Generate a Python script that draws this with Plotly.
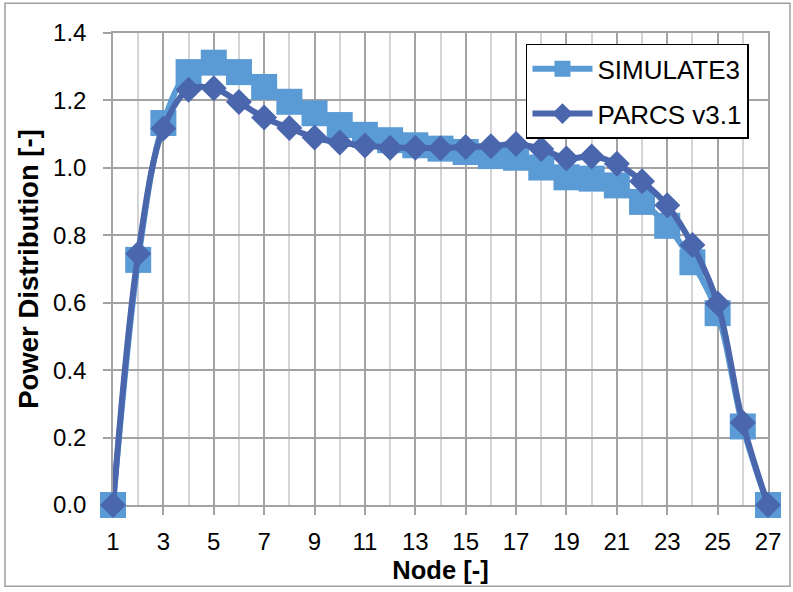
import plotly.graph_objects as go

nodes = list(range(1, 28))
simulate3 = [0.0, 0.727, 1.133, 1.284, 1.312, 1.284, 1.240, 1.196, 1.162, 1.127,
             1.098, 1.082, 1.067, 1.057, 1.047, 1.035, 1.030, 1.001, 0.972, 0.968,
             0.948, 0.899, 0.828, 0.720, 0.569, 0.233, 0.0]
parcs = [0.0, 0.745, 1.117, 1.232, 1.236, 1.195, 1.149, 1.118, 1.090, 1.075,
         1.066, 1.060, 1.060, 1.058, 1.062, 1.064, 1.071, 1.056, 1.028, 1.034,
         1.012, 0.960, 0.889, 0.771, 0.598, 0.244, 0.0]
x_ticks = list(range(1, 28, 2))
y_ticks = [0.0, 0.2, 0.4, 0.6, 0.8, 1.0, 1.2, 1.4]

FONT = "Arial, Liberation Sans, sans-serif"
SIM_C = "#5B9BD5"
PAR_C = "#4A66AC"
GRID = "#A3A3A3"
GRID_MINOR = "#D4D4D4"

fig = go.Figure()
fig.add_trace(go.Scatter(
    x=nodes, y=simulate3, name="SIMULATE3", mode="lines+markers",
    line=dict(color=SIM_C, width=6, shape="spline"),
    marker=dict(symbol="square", size=26, color=SIM_C),
    legendgroup="a", cliponaxis=False,
))
fig.add_trace(go.Scatter(
    x=nodes, y=parcs, name="PARCS v3.1", mode="lines+markers",
    line=dict(color=PAR_C, width=6, shape="spline"),
    marker=dict(symbol="diamond", size=20, color=PAR_C),
    legendgroup="b", cliponaxis=False,
))

fig.update_layout(
    width=793, height=592,
    margin=dict(l=113, r=25, t=33, b=83),
    paper_bgcolor="white", plot_bgcolor="white",
    font=dict(family=FONT, size=24, color="black"),
    showlegend=True,
    legend=dict(
        x=0.6305, y=0.977, xanchor="left", yanchor="top",
        bgcolor="white", bordercolor="black", borderwidth=1.5,
        font=dict(family=FONT, size=26, color="black"),
        traceorder="grouped", tracegroupgap=8, itemwidth=60,
    ),
    xaxis=dict(
        range=[1, 27], tickmode="array", tickvals=x_ticks,
        ticktext=[str(v) for v in x_ticks],
        showgrid=True, gridcolor=GRID, gridwidth=1.5,
        minor=dict(dtick=1, tick0=0, showgrid=True, gridcolor=GRID_MINOR, gridwidth=1.5),
        showline=True, linecolor=GRID, linewidth=1.5, mirror=True,
        ticks="outside", ticklen=8, tickcolor=GRID, tickwidth=1.5,
        ticklabelstandoff=6, layer="below traces",
        tickfont=dict(family=FONT, size=24),
        title=dict(text="<b>Node [-]</b>", font=dict(family=FONT, size=25.5), standoff=8),
        zeroline=False,
    ),
    yaxis=dict(
        range=[0, 1.4], tickmode="array", tickvals=y_ticks,
        tickformat=".1f",
        showgrid=True, gridcolor=GRID, gridwidth=1.5,
        showline=True, linecolor=GRID, linewidth=1.5, mirror=True,
        ticks="outside", ticklen=8, tickcolor=GRID, tickwidth=1.5,
        ticklabelstandoff=12, layer="below traces",
        tickfont=dict(family=FONT, size=24),
        title=dict(text="<b>Power Distribution [-]</b>", font=dict(family=FONT, size=27.5), standoff=6),
        zeroline=False,
    ),
    shapes=[dict(
        type="rect", xref="paper", yref="paper",
        x0=(5 - 113) / 655, x1=(790 - 113) / 655,
        y0=(509 - 591) / 476, y1=(509 - 3) / 476,
        line=dict(color="#A0A0A0", width=1.5), fillcolor="rgba(0,0,0,0)",
        layer="below",
    )],
)

fig.write_html("out.html")
